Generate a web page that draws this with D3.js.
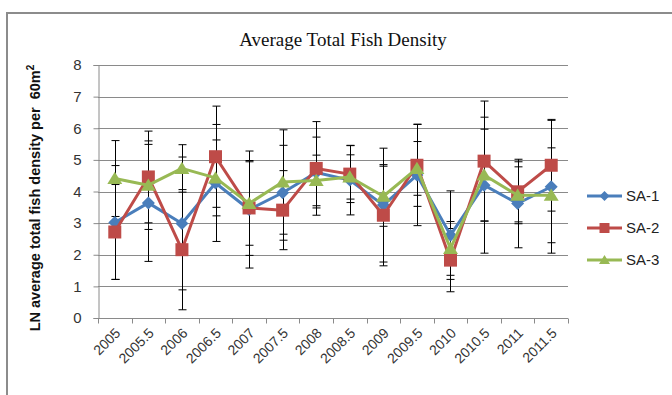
<!DOCTYPE html>
<html>
<head>
<meta charset="utf-8">
<script src="https://cdn.jsdelivr.net/npm/d3@7"></script>
<style>
  html, body { margin: 0; padding: 0; background: #fff; }
  svg { display: block; }
</style>
</head>
<body>
<svg id="chart" width="672" height="395"></svg>
<script>
// Sampling periods (half-year steps)
const categories = ["2005", "2005.5", "2006", "2006.5", "2007", "2007.5", "2008",
                    "2008.5", "2009", "2009.5", "2010", "2010.5", "2011", "2011.5"];

// LN average total fish density per 60 m² for each study area
const sa1 = [3.02, 3.64, 2.99, 4.27, 3.43, 3.96, 4.60, 4.36, 3.57, 4.52, 2.62, 4.20, 3.62, 4.15];
const sa2 = [2.72, 4.46, 2.16, 5.10, 3.48, 3.41, 4.73, 4.55, 3.25, 4.83, 1.83, 4.96, 3.99, 4.83];
const sa3 = [4.41, 4.20, 4.73, 4.43, 3.62, 4.30, 4.35, 4.46, 3.85, 4.73, 2.20, 4.52, 3.88, 3.88];

// Error bar half-widths (±)
const err1 = [1.80, 1.85, 2.10, 1.85, 1.85, 1.50, 1.12, 1.10, 1.80, 1.60, 1.40, 2.15, 1.40, 2.10];
const err2 = [1.50, 1.45, 1.90, 1.60, 1.50, 1.25, 1.48, 0.90, 1.60, 1.30, 1.00, 1.90, 0.95, 1.45];
const err3 = [1.20, 1.40, 0.75, 1.20, 1.32, 1.65, 0.80, 0.70, 0.95, 0.85, 0.85, 1.45, 0.90, 1.50];

const yTicks = [0, 1, 2, 3, 4, 5, 6, 7, 8];
const seriesNames = ["SA-1", "SA-2", "SA-3"];
const seriesColors = ["#4A7EBB", "#BE4B48", "#98B954"];
const seriesShapes = ["diamond", "square", "triangle"];

const series = seriesNames.map((name, i) => ({
  name,
  color: seriesColors[i],
  shape: seriesShapes[i],
  values: [sa1, sa2, sa3][i],
  errors: [err1, err2, err3][i]
}));

const svg = d3.select("#chart");
const plot = { left: 98, right: 568, top: 65, bottom: 318 };

const x = d3.scaleBand().domain(categories).range([plot.left, plot.right]).padding(0);
const y = d3.scaleLinear().domain([0, 8]).range([plot.bottom, plot.top]);
const cx = c => x(c) + x.bandwidth() / 2;

// Chart area border (top and left edges)
svg.append("path")
  .attr("d", `M7,395 L7,13 L672,13`)
  .attr("fill", "none")
  .attr("stroke", "#8c8c8c")
  .attr("stroke-width", 2);

// Title
svg.append("text")
  .attr("x", 343).attr("y", 46)
  .attr("text-anchor", "middle")
  .attr("font-family", "'Liberation Serif', 'Times New Roman', serif")
  .attr("font-size", 19)
  .attr("fill", "#111")
  .text("Average Total Fish Density");

// Horizontal gridlines
svg.append("g")
  .selectAll("line")
  .data(yTicks.filter(d => d > 0))
  .join("line")
  .attr("x1", plot.left).attr("x2", plot.right)
  .attr("y1", d => Math.round(y(d)) + 0.5).attr("y2", d => Math.round(y(d)) + 0.5)
  .attr("stroke", "#8a8a8a").attr("stroke-width", 1);

// Y axis
const yAxis = svg.append("g")
  .attr("transform", `translate(${plot.left + 0.5},0)`)
  .call(d3.axisLeft(y).tickValues(yTicks).tickSize(5).tickPadding(12).tickFormat(d3.format("d")));
yAxis.select(".domain").attr("stroke", "#8a8a8a");
yAxis.selectAll(".tick line").attr("stroke", "#8a8a8a");
yAxis.selectAll(".tick text")
  .attr("font-family", "'Liberation Sans', Arial, sans-serif")
  .attr("font-size", 15)
  .attr("fill", "#333");

// X axis with ticks at category boundaries
const xAxis = svg.append("g")
  .attr("transform", `translate(0,${plot.bottom + 0.5})`);
xAxis.append("line")
  .attr("x1", plot.left).attr("x2", plot.right)
  .attr("stroke", "#8a8a8a");
const boundaries = categories.map(c => x(c)).concat([plot.right]);
xAxis.selectAll("line.tk")
  .data(boundaries)
  .join("line")
  .attr("class", "tk")
  .attr("x1", d => Math.round(d) + 0.5).attr("x2", d => Math.round(d) + 0.5)
  .attr("y1", 0).attr("y2", 5)
  .attr("stroke", "#8a8a8a");
xAxis.selectAll("text")
  .data(categories)
  .join("text")
  .attr("transform", d => `translate(${cx(d) + 3},${12}) rotate(-45)`)
  .attr("text-anchor", "end")
  .attr("dy", "0.35em")
  .attr("font-family", "'Liberation Sans', Arial, sans-serif")
  .attr("font-size", 14)
  .attr("fill", "#333")
  .text(d => d);

// Y axis title
const yTitle = svg.append("text")
  .attr("transform", `translate(40,198) rotate(-90)`)
  .attr("text-anchor", "middle")
  .attr("font-family", "'Liberation Sans', Arial, sans-serif")
  .attr("font-weight", "bold")
  .attr("font-size", 14.5)
  .attr("fill", "#111")
  .style("white-space", "pre");
yTitle.append("tspan").text("LN average total fish density per\u00A0 60m");
yTitle.append("tspan").attr("font-size", 10).attr("dy", -6).text("2");

// Error bars
series.forEach(s => {
  const g = svg.append("g").attr("stroke", "#000").attr("stroke-width", 1);
  categories.forEach((c, i) => {
    const px = Math.round(cx(c)) + 0.5;
    const hi = y(s.values[i] + s.errors[i]);
    const lo = y(Math.max(0, s.values[i] - s.errors[i]));
    g.append("line").attr("x1", px).attr("x2", px).attr("y1", hi).attr("y2", lo);
    g.append("line").attr("x1", px - 4).attr("x2", px + 4).attr("y1", hi).attr("y2", hi);
    g.append("line").attr("x1", px - 4).attr("x2", px + 4).attr("y1", lo).attr("y2", lo);
  });
});

// Marker shapes
function markerPath(shape, r) {
  if (shape === "diamond") return `M0,${-r}L${r},0L0,${r}L${-r},0Z`;
  if (shape === "square") return `M${-r},${-r}H${r}V${r}H${-r}Z`;
  const h = r * 1.8;
  return `M0,${-h * 0.55}L${r * 1.1},${h * 0.45}L${-r * 1.1},${h * 0.45}Z`;
}
const markerSize = { diamond: 6.5, square: 6.5, triangle: 6.8 };

// Lines and markers
const line = d3.line().x(d => d.x).y(d => d.y);
series.forEach(s => {
  const pts = categories.map((c, i) => ({ x: cx(c), y: y(s.values[i]) }));
  svg.append("path")
    .datum(pts)
    .attr("d", line)
    .attr("fill", "none")
    .attr("stroke", s.color)
    .attr("stroke-width", 3)
    .attr("stroke-linejoin", "round");
  svg.append("g")
    .selectAll("path")
    .data(pts)
    .join("path")
    .attr("transform", d => `translate(${d.x},${d.y})`)
    .attr("d", markerPath(s.shape, markerSize[s.shape]))
    .attr("fill", s.color);
});

// Legend
const legend = svg.append("g");
series.forEach((s, i) => {
  const ly = 196 + i * 32;
  legend.append("line")
    .attr("x1", 587).attr("x2", 622)
    .attr("y1", ly).attr("y2", ly)
    .attr("stroke", s.color).attr("stroke-width", 3);
  legend.append("path")
    .attr("transform", `translate(604.5,${ly})`)
    .attr("d", markerPath(s.shape, 5))
    .attr("fill", s.color);
  legend.append("text")
    .attr("x", 626).attr("y", ly)
    .attr("dy", "0.36em")
    .attr("font-family", "'Liberation Sans', Arial, sans-serif")
    .attr("font-size", 15)
    .attr("fill", "#222")
    .text(s.name);
});
</script>
</body>
</html>
